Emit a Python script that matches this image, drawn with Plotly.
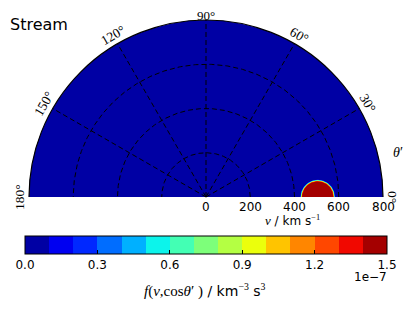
import numpy as np
import plotly.graph_objects as go

# ---------------- data ----------------
title_text = "Stream"
theta_ticks = [0, 30, 60, 90, 120, 150, 180]          # degrees
r_rings = [200, 400, 600]                               # km/s
r_max = 800
r_tick_labels = [0, 200, 400, 600, 800]
cb_ticks = [0.0, 0.3, 0.6, 0.9, 1.2, 1.5]              # x 1e-7
cb_levels = [i * 0.1 for i in range(16)]                # x 1e-7, 15 bands
stream_v0 = 505                                         # km/s, beam centre (theta'=0)
profile_dist = [0, 70, 72.5, 75, 77, 79]                # km/s from beam centre
profile_f = [1.5e-7, 1.42e-7, 1.0e-7, 0.6e-7, 0.3e-7, 0.0]

# ---------------- style / geometry ----------------
OFF = 8                      # page body margin of the browser
W, H = 413 - OFF, 310 - OFF
SCALE = 177 / 800.0          # px per km/s
CX, CY = 206 - OFF, 197 - OFF

def px(xr):  # reference-pixel x -> paper
    return (xr - OFF) / W

def py(yr):  # reference-pixel y -> paper
    return 1 - (yr - OFF) / H

def jet(t):
    idx = min(int(t * 256), 255)
    t = idx / 255.0
    r = np.interp(t, [0, 0.35, 0.66, 0.89, 1], [0, 0, 1, 1, 0.5])
    g = np.interp(t, [0, 0.125, 0.375, 0.64, 0.91, 1], [0, 0, 1, 1, 0, 0])
    b = np.interp(t, [0, 0.11, 0.34, 0.65, 1], [0.5, 1, 1, 0, 0])
    return "#%02x%02x%02x" % (int(round(r * 255)), int(round(g * 255)), int(round(b * 255)))

nb = len(cb_levels) - 1
band_colors = [jet((i + 0.5) / nb) for i in range(nb)]
colorscale = []
for i, c in enumerate(band_colors):
    lo = i / nb + (1e-6 if i > 0 else 0)
    hi = (i + 1) / nb
    colorscale.append([lo, c])
    colorscale.append([hi, c])

zmin = cb_levels[0] * 1e-7
zmax = cb_levels[-1] * 1e-7

fig = go.Figure()

# filled contour bands of the beam (region f >= level_k is a half-disc)
f_asc = np.array(profile_f[::-1])
d_desc = np.array(profile_dist[::-1], dtype=float)
phi = np.linspace(0, np.pi, 181)
for k in range(1, nb):
    lev = cb_levels[k] * 1e-7
    if lev > f_asc.max():
        break
    rad = float(np.interp(lev, f_asc, d_desc))
    xs = np.concatenate([stream_v0 + rad * np.cos(phi), [stream_v0 + rad]])
    ys = np.concatenate([rad * np.sin(phi), [0]])
    fig.add_trace(go.Scatter(x=xs, y=ys, mode="lines", fill="toself",
                             fillcolor=band_colors[k], line=dict(width=0, color=band_colors[k]),
                             hoverinfo="skip", showlegend=False))

# colorbar carrier (point outside the visible range)
fig.add_trace(go.Scatter(
    x=[0], y=[-5000], mode="markers", hoverinfo="skip", showlegend=False,
    marker=dict(color=[zmin], cmin=zmin, cmax=zmax, colorscale=colorscale, size=1,
                showscale=True,
                colorbar=dict(
                    orientation="h", x=px(206), xanchor="center", y=py(236), yanchor="top",
                    lenmode="pixels", len=362, thicknessmode="pixels", thickness=18,
                    xpad=0, ypad=0, outlinecolor="black", outlinewidth=1, borderwidth=0,
                    tickmode="array", tickvals=[v * 1e-7 for v in cb_ticks],
                    ticktext=["%.1f" % v for v in cb_ticks],
                    ticks="inside", ticklen=4, tickcolor="black",
                    tickfont=dict(family="DejaVu Sans", size=12, color="black"),
                ))))

# grid: rings
dash = "5px,3px"
phi2 = np.linspace(0, np.pi, 361)
for rr in r_rings:
    fig.add_trace(go.Scatter(x=rr * np.cos(phi2), y=rr * np.sin(phi2), mode="lines",
                             line=dict(color="black", width=1, dash=dash),
                             hoverinfo="skip", showlegend=False))
# grid: rays
for th in theta_ticks[1:-1]:
    a = np.deg2rad(th)
    fig.add_trace(go.Scatter(x=[0, r_max * np.cos(a)], y=[0, r_max * np.sin(a)], mode="lines",
                             line=dict(color="black", width=1, dash=dash),
                             hoverinfo="skip", showlegend=False))

shapes = [
    dict(type="circle", xref="x", yref="y", x0=-r_max, x1=r_max, y0=-r_max, y1=r_max,
         fillcolor=band_colors[0], line=dict(color="black", width=1.2), layer="below"),
    dict(type="rect", xref="x", yref="y", x0=-1000, x1=1000, y0=-900, y1=0,
         fillcolor="white", line=dict(width=0), layer="below"),
]

annotations = []
for th in theta_ticks:
    a = np.deg2rad(th)
    label_r = 822 if th == 90 else 845
    annotations.append(dict(
        x=label_r * np.cos(a), y=label_r * np.sin(a), xref="x", yref="y",
        text="%d°" % th, showarrow=False, xanchor="center", yanchor="middle",
        textangle=90 - th, font=dict(family="Liberation Serif", size=13.5 if th != 90 else 13,
                                     color="black")))
for rv in r_tick_labels:
    annotations.append(dict(x=rv, y=-45, xref="x", yref="y", text=str(rv), showarrow=False,
                            xanchor="center", yanchor="middle",
                            font=dict(family="DejaVu Sans", size=12, color="black")))
annotations.append(dict(
    x=392, y=-106, xref="x", yref="y", showarrow=False, xanchor="center", yanchor="middle",
    text='<span style="font-family:Liberation Serif;font-size:13px"><i>v</i></span> / km s<sup><span style="font-family:Liberation Serif">−1</span></sup>',
    font=dict(family="DejaVu Sans", size=12, color="black")))
annotations.append(dict(
    x=866, y=199, xref="x", yref="y", showarrow=False, xanchor="center", yanchor="middle",
    text="<i>θ</i>′", font=dict(family="Liberation Serif", size=14, color="black")))
annotations.append(dict(
    x=px(8), y=py(25), xref="paper", yref="paper", showarrow=False,
    xanchor="left", yanchor="middle", text=title_text,
    font=dict(family="DejaVu Sans", size=16, color="black")))
annotations.append(dict(
    x=px(389), y=py(277), xref="paper", yref="paper", showarrow=False,
    xanchor="right", yanchor="middle", text="1e−7",
    font=dict(family="DejaVu Sans", size=12, color="black")))
annotations.append(dict(
    x=px(205), y=py(290), xref="paper", yref="paper", showarrow=False,
    xanchor="center", yanchor="middle",
    text='<span style="font-family:Liberation Serif;font-size:15px"><i>f</i>(<i>v</i>,cos<i>θ</i>′ )</span> / km<sup><span style="font-family:Liberation Serif">−3</span></sup> s<sup><span style="font-family:Liberation Serif">3</span></sup>',
    font=dict(family="DejaVu Sans", size=14, color="black")))

x0 = -CX / SCALE
x1 = (W - CX) / SCALE
y1 = CY / SCALE
y0 = -(H - CY) / SCALE

fig.update_layout(
    width=W, height=H, margin=dict(l=0, r=0, t=0, b=0, autoexpand=False),
    paper_bgcolor="white", plot_bgcolor="white",
    xaxis=dict(range=[x0, x1], visible=False, domain=[0, 1], fixedrange=True),
    yaxis=dict(range=[y0, y1], visible=False, domain=[0, 1], fixedrange=True),
    shapes=shapes, annotations=annotations, showlegend=False,
)

fig.write_html("out.html")
